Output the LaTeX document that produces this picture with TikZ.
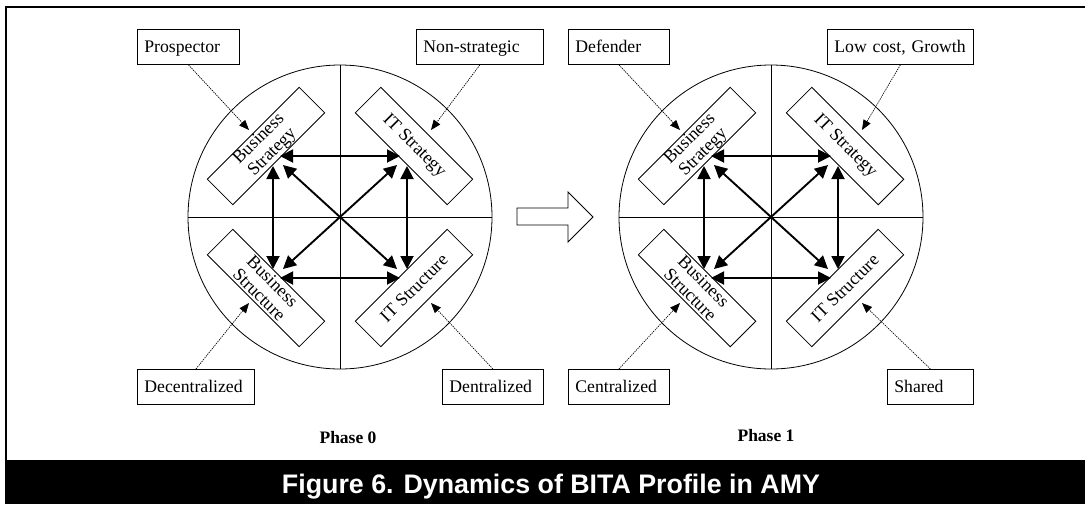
\documentclass[tikz,border=0pt]{standalone}
\usepackage{fontspec}
\setmainfont{Liberation Serif}
\newfontfamily\capfont{Liberation Sans}
\usetikzlibrary{arrows.meta,calc}
\tikzset{
  thinline/.style={line width=0.8pt},
  lbl/.style={draw, line width=0.8pt, minimum height=35pt, inner xsep=7pt, inner ysep=0pt,
    anchor=north west, text height=13pt, text depth=2pt, align=left, text width=#1,
    font=\fontsize{17.7}{20}\selectfont},
  rbox/.style={draw, fill=white, line width=0.8pt, minimum width=130pt, minimum height=36pt,
    inner sep=0pt, align=center, font=\fontsize{18}{19}\selectfont},
  boldarrow/.style={line width=1.9pt, {Triangle[length=13pt,width=13pt]}-{Triangle[length=13pt,width=13pt]}},
  dotarrow/.style={line width=0.7pt, dash pattern=on 1.3pt off 1pt, -{Triangle[length=10pt,width=8pt]}},
  phase/.style={anchor=base, font=\bfseries\fontsize{17.5}{20}\selectfont},
}
\newcommand\bitapanel[2]{%
\begin{scope}[shift={(#2,217)}]
  \draw[thinline] (0,0) circle (152);
  \draw[thinline] (0,-152) -- (0,152);
  \draw[thinline] (-152,0) -- (152,0);
  \node[rbox, rotate=45]  (#1bs)   at (-74,-71) {Business\\Strategy};
  \node[rbox, rotate=-45] (#1its)  at (74,-71)  {IT Strategy};
  \node[rbox, rotate=-45] (#1bst)  at (-74,71)  {Business\\Structure};
  \node[rbox, rotate=45]  (#1itst) at (74,71)   {IT Structure};
  % arrow end points
  \coordinate (#1h1) at (-60,-61); \coordinate (#1h2) at (60,-61);
  \coordinate (#1h3) at (-60,61);  \coordinate (#1h4) at (60,61);
  \coordinate (#1v1) at (-67,-51); \coordinate (#1v2) at (-67,52);
  \coordinate (#1v3) at (67,-51);  \coordinate (#1v4) at (67,52);
  \coordinate (#1d1) at (-57,-52); \coordinate (#1d2) at (57,52);
  \coordinate (#1d3) at (57,-52);  \coordinate (#1d4) at (-57,52);
  \coordinate (#1t1) at (-91,-87); \coordinate (#1t2) at (91,-87);
  \coordinate (#1t3) at (-91,86);  \coordinate (#1t4) at (91,86);
  \draw[boldarrow] (#1h1) -- (#1h2);
  \draw[boldarrow] (#1h3) -- (#1h4);
  \draw[boldarrow] (#1v1) -- (#1v2);
  \draw[boldarrow] (#1v3) -- (#1v4);
  \draw[boldarrow] (#1d1) -- (#1d2);
  \draw[boldarrow] (#1d3) -- (#1d4);
\end{scope}}
\begin{document}
\begin{tikzpicture}[x=1pt,y=-1pt]
\useasboundingbox (0,0) rectangle (1085,504);
% frame and caption band
\fill[black] (5,460) rectangle (1085,504);
\draw[line width=2pt] (6,460) -- (6,7) -- (1085,7);
\node[anchor=base, text=white, font=\capfont\bfseries\fontsize{26.8}{30}\selectfont] (cap) at (551,493) {Figure 6. Dynamics of BITA Profile in AMY};
% panels
\bitapanel{p}{340}
\bitapanel{q}{771}
% label boxes, phase 0
\node[lbl=88pt]  (pro) at (137,29) {Prospector};
\node[lbl=113pt] (non) at (416,29) {Non-strategic};
\node[lbl=103pt] (dec) at (137,369) {Decentralized};
\node[lbl=87pt]  (den) at (442,369) {Dentralized};
% label boxes, phase 1
\node[lbl=87pt]  (def) at (568,29) {Defender};
\node[lbl=132pt] (low) at (827,29) {Low cost, Growth};
\node[lbl=87pt]  (cen) at (568,369) {Centralized};
\node[lbl=72pt]  (sha) at (887,369) {Shared};
% dotted arrows
\draw[dotarrow] (pro.south) -- (pt1);
\draw[dotarrow] (non.south) -- (pt2);
\draw[dotarrow] (dec.north) -- (pt3);
\draw[dotarrow] (den.north) -- (pt4);
\draw[dotarrow] (def.south) -- (qt1);
\draw[dotarrow] (low.south) -- (qt2);
\draw[dotarrow] (cen.north) -- (qt3);
\draw[dotarrow] (sha.north) -- (qt4);
% block arrow between phases
\draw[thinline, fill=white] (517,208) -- (568,208) -- (568,192) -- (593,217) -- (568,242) -- (568,225) -- (517,225) -- cycle;
% phase labels
\node[phase] (ph0) at (348,443) {Phase 0};
\node[phase] (ph1) at (766,441) {Phase 1};
\end{tikzpicture}
\end{document}
